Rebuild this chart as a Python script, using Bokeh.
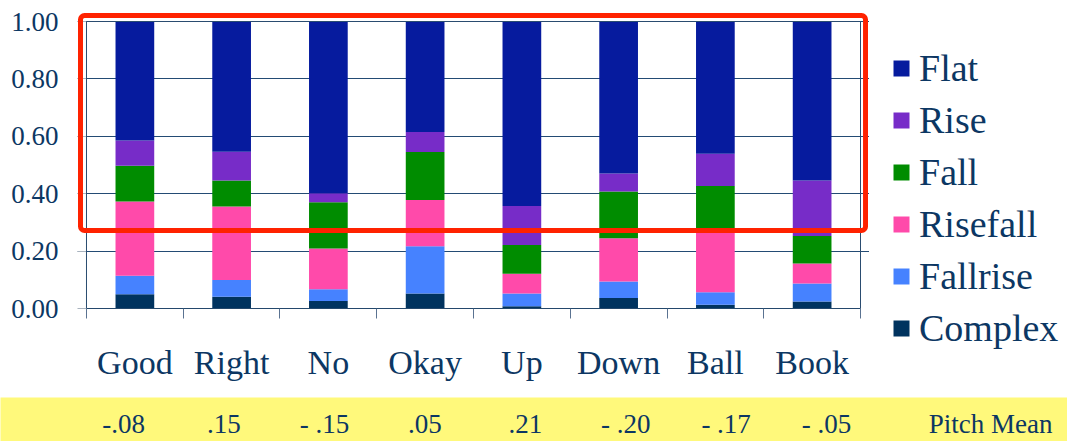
from bokeh.plotting import figure
from bokeh.models import (ColumnDataSource, FixedTicker, NumeralTickFormatter,
                          Legend, LegendItem, BoxAnnotation, Range1d)
from bokeh.layouts import column, row
from bokeh.core.properties import value
from bokeh.embed import file_html
from bokeh.resources import INLINE

# Share of each pitch contour per word (each column sums to 1)
words = ["Good", "Right", "No", "Okay", "Up", "Down", "Ball", "Book"]
complex_ = [0.050, 0.041, 0.026, 0.052, 0.008, 0.037, 0.013, 0.024]
fallrise = [0.064, 0.058, 0.041, 0.165, 0.044, 0.057, 0.044, 0.063]
risefall = [0.259, 0.256, 0.142, 0.161, 0.069, 0.151, 0.208, 0.070]
fall = [0.124, 0.091, 0.161, 0.167, 0.100, 0.163, 0.162, 0.096]
rise = [0.088, 0.100, 0.032, 0.070, 0.136, 0.062, 0.112, 0.193]
flat = [0.415, 0.454, 0.598, 0.384, 0.643, 0.530, 0.461, 0.554]

# Mean pitch per word, as printed under the chart
pitch_mean = ["-.08", ".15", "- .15", ".05", ".21", "- .20", "- .17", "- .05"]
pitch_caption = "Pitch Mean"

y_ticks = [0.0, 0.2, 0.4, 0.6, 0.8, 1.0]

contours = ["Complex", "Fallrise", "Risefall", "Fall", "Rise", "Flat"]
colors = ["#00335F", "#4682FF", "#FF4AAA", "#008C00", "#772CC8", "#061B9E"]

NAVY = "#0C3763"
FONT = "Liberation Serif"

n = len(words)
centers = [i + 0.5 for i in range(n)]
source = ColumnDataSource(dict(
    x=centers, Complex=complex_, Fallrise=fallrise, Risefall=risefall,
    Fall=fall, Rise=rise, Flat=flat,
))

# ---- main chart -----------------------------------------------------------
# The frame is a little larger than the 0..n / 0..1 data area so the
# highlight box can sit just outside the data area.
p = figure(width=869, height=397,
           x_range=Range1d(-0.093, n + 0.093), y_range=Range1d(0, 1.0314),
           output_backend="svg", toolbar_location=None,
           min_border_left=77, min_border_right=0,
           min_border_top=12, min_border_bottom=89,
           outline_line_color=None)
p.title.visible = False
p.frame_align = False
p.xgrid.visible = False

bars = p.vbar_stack(contours, x="x", width=0.4, source=source,
                    fill_color=colors, line_color=None)

# x axis: tick marks between words, word labels under each bar
xax = p.xaxis[0]
xax.bounds = (0, n)
xax.ticker = FixedTicker(ticks=centers, minor_ticks=list(range(n + 1)))
xax.major_label_overrides = {c: w for c, w in zip(centers, words)}
xax.major_tick_line_color = None
xax.major_tick_out = 0
xax.major_tick_in = 0
xax.minor_tick_out = 10
xax.minor_tick_in = 0
xax.minor_tick_line_color = "#5A7291"
xax.axis_line_color = "#1F4468"
xax.major_label_standoff = 25
xax.major_label_text_font = FONT
xax.major_label_text_font_size = "34px"
xax.major_label_text_color = NAVY

# y axis sits on the frame edge; its short inward ticks reach the data area
yax = p.yaxis[0]
yax.ticker = FixedTicker(ticks=y_ticks)
yax.formatter = NumeralTickFormatter(format="0.00")
yax.axis_line_color = None
yax.major_tick_out = 0
yax.major_tick_in = 9
yax.major_tick_line_color = "#A9B3BE"
yax.minor_tick_line_color = None
yax.major_label_standoff = 19
yax.major_label_text_font = FONT
yax.major_label_text_font_size = "27px"
yax.major_label_text_color = NAVY

p.ygrid.ticker = FixedTicker(ticks=y_ticks)
p.ygrid.grid_line_color = "#234B74"
p.ygrid.grid_line_width = 1

# border of the data area
p.add_layout(BoxAnnotation(left=0, right=n, bottom=0, top=1,
                           fill_color=None, line_color="#2A4C70",
                           line_alpha=1, line_width=1))

# highlight box around the upper part of the bars
p.add_layout(BoxAnnotation(left=-0.062, right=n + 0.052, bottom=0.272, top=1.021,
                           fill_color=None, line_color="#FF2200", line_alpha=1,
                           line_width=5, border_radius=4))

# ---- legend panel -----------------------------------------------------------
# Hidden copies of the stacked bars supply the legend swatches.
lg = figure(width=198, height=397,
            x_range=Range1d(0, 1), y_range=Range1d(0, 1),
            x_axis_location=None, y_axis_location=None,
            output_backend="svg", toolbar_location=None,
            min_border=0, outline_line_color=None)
lg.title.visible = False
lg.frame_align = False
lg.grid.visible = False
lg_bars = lg.vbar_stack(contours, x="x", width=0.4, source=source,
                        fill_color=colors, line_color=None)
for r in lg_bars:
    r.visible = False

legend = Legend(
    items=[LegendItem(label=name, renderers=[r])
           for name, r in reversed(list(zip(contours, lg_bars)))],
    location=(22, 43), orientation="vertical",
    glyph_width=20, glyph_height=20, label_height=52, label_width=10,
    spacing=0, padding=0, margin=0, label_standoff=8,
    label_text_font=FONT, label_text_font_size="38px",
    label_text_color=NAVY, border_line_color=None,
    background_fill_alpha=0, inactive_fill_alpha=0,
)
lg.add_layout(legend)

# ---- yellow strip with the pitch means ------------------------------------
band = figure(width=1067, height=44,
              x_range=Range1d(-0.725, 9.899), y_range=Range1d(0, 44),
              x_axis_location=None, y_axis_location=None,
              output_backend="svg", toolbar_location=None,
              min_border=0, outline_line_color=None,
              background_fill_color="#FFF97B", border_fill_color="#FFF97B")
band.title.visible = False
band.frame_align = False
band.grid.visible = False
band.text(x=centers, y=18, text=pitch_mean, text_align="center",
          text_baseline="middle", text_font=value(FONT),
          text_font_size="27px", text_color=NAVY)
band.text(x=[9.133], y=18, text=[pitch_caption], text_align="center",
          text_baseline="middle", text_font=value(FONT),
          text_font_size="27px", text_color=NAVY)

layout = column(row(p, lg, spacing=0), band, spacing=0)
open("out.html", "w").write(file_html(layout, INLINE))
